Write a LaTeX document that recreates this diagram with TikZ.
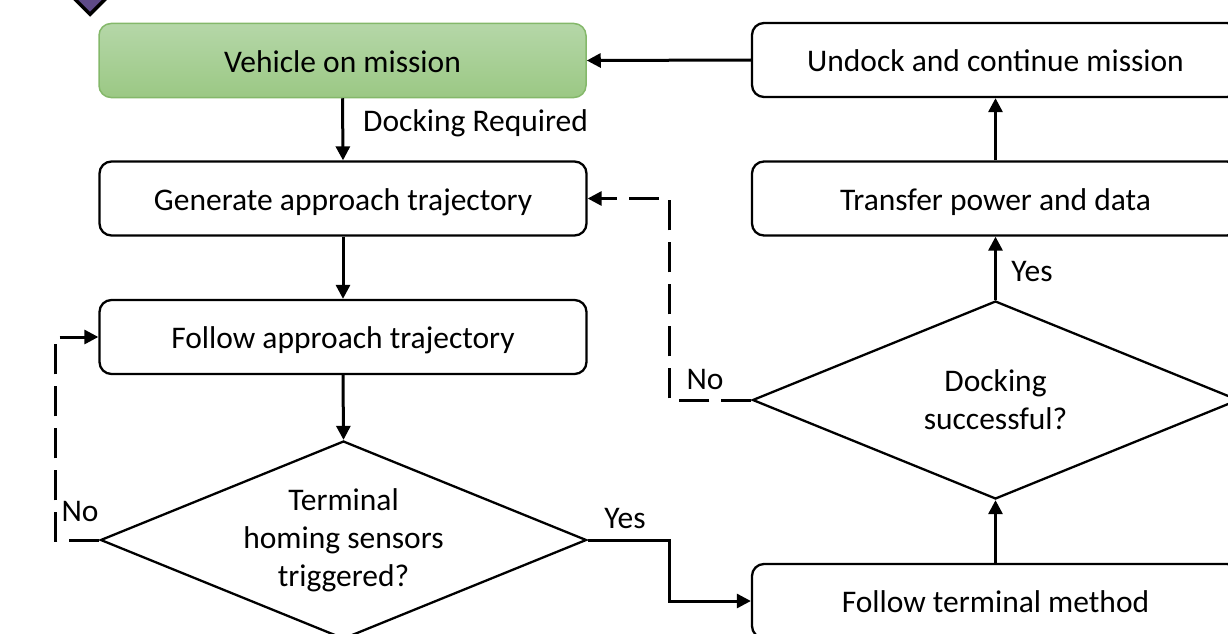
\documentclass[tikz,border=0pt]{standalone}
\usepackage{fontspec}
\setmainfont{Carlito}
\usetikzlibrary{shapes.geometric,arrows.meta,calc}
\definecolor{gtop}{HTML}{B5D7A8}
\definecolor{gbot}{HTML}{9BC884}
\definecolor{gline}{HTML}{84B86A}
\definecolor{purp}{HTML}{5E4A88}
\tikzset{
  txt/.style={font=\fontsize{31.5pt}{38pt}\selectfont, text=black},
  stepbox/.style={txt, draw, line width=2.3pt, rounded corners=12pt, minimum width=487pt, minimum height=74pt, inner sep=0pt, text height=27pt, text depth=4pt},
  startbox/.style={stepbox, draw=gline, line width=1.5pt, top color=gtop, bottom color=gbot},
  decision/.style={txt, draw, line width=2.3pt, diamond, aspect=2.46, minimum width=486pt, minimum height=198pt, inner sep=0pt, align=center},
  arr/.style={line width=3pt, -{Triangle[length=14pt,width=14pt]}},
  dsh/.style={dash pattern=on 30pt off 12pt},
  lbl/.style={txt, inner sep=0pt}
}
\begin{document}
\begin{tikzpicture}[x=1pt,y=-1pt]
\useasboundingbox (0,0) rectangle (1228,634);
\clip (0,0) rectangle (1228,634);
% purple marker
\node[diamond, draw=black, line width=3.5pt, fill=purp, minimum width=44pt, minimum height=44pt, inner sep=0pt] (mark) at (90,-7) {};
% boxes
\node[startbox] (veh) at (342.5,60.5) {Vehicle on mission};
\node[stepbox] (und) at (995.5,60) {Undock and continue mission};
\node[stepbox] (gen) at (343,198.5) {Generate approach trajectory};
\node[stepbox] (tra) at (995.5,198.5) {Transfer power and data};
\node[stepbox] (fol) at (343,337) {Follow approach trajectory};
\node[decision] (dock) at (995.5,400) {Docking\\successful?};
\node[decision] (term) at (343.5,540) {Terminal\\homing sensors\\triggered?};
\node[stepbox] (meth) at (995.5,601) {Follow terminal method};
% helper corners
\coordinate (c1) at (55,540);
\coordinate (c2) at (669,540);
\coordinate (c3) at (669,400);
% connectors
\draw[arr] (und.west) -- (veh.east);
\draw[arr] (veh.south) -- (gen.north);
\draw[arr] (gen.south) -- (fol.north);
\draw[arr] (fol.south) -- (term.north);
\draw[arr, dsh] (term.west) -- (c1) |- (fol.west);
\draw[arr] (term.east) -- (c2) |- (meth.west);
\draw[arr] (meth.north) -- (dock.south);
\draw[arr] (dock.north) -- (tra.south);
\draw[arr] (tra.north) -- (und.south);
\draw[arr, dsh] (dock.west) -- (c3) |- (gen.east);
% labels
\node[lbl, anchor=west] (l1) at (363,123) {Docking Required};
\node[lbl] (l2) at (80,511) {No};
\node[lbl] (l3) at (625,519) {Yes};
\node[lbl] (l4) at (1032,272) {Yes};
\node[lbl] (l5) at (705,379) {No};
\end{tikzpicture}
\end{document}
